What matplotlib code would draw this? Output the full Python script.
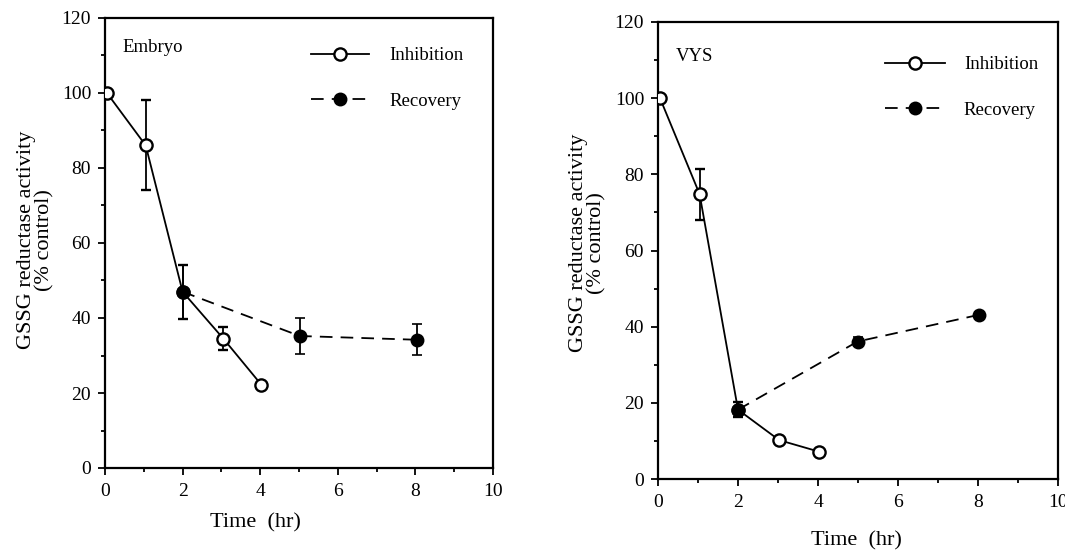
import matplotlib
matplotlib.use("Agg")
import matplotlib.pyplot as plt
from matplotlib.ticker import MultipleLocator

plt.rcParams['font.family'] = ['Liberation Serif', 'DejaVu Serif']

# ---- data ----
emb_inh_x = [0.05, 1.05, 2.0, 3.05, 4.03]
emb_inh_y = [100, 86, 47, 34.5, 22.2]
emb_inh_err = [0, 12, 7.2, 3.1, 0]
emb_rec_x = [2.0, 5.02, 8.03]
emb_rec_y = [47, 35.2, 34.2]
emb_rec_err = [7.2, 4.9, 4.1]

vys_inh_x = [0.05, 1.04, 2.0, 3.03, 4.02]
vys_inh_y = [100, 74.8, 18.2, 10.2, 7.2]
vys_inh_err = [0, 6.7, 1.9, 0, 0]
vys_rec_x = [2.0, 4.99, 8.02]
vys_rec_y = [18.2, 36.1, 43.1]
vys_rec_err = [1.9, 1.2, 0.8]

xticks = [0, 2, 4, 6, 8, 10]
yticks = [0, 20, 40, 60, 80, 100, 120]
ylabel = "GSSG reductase activity\n(% control)"
xlabel = "Time  (hr)"
legend_labels = ["Inhibition", "Recovery"]

fig = plt.figure(figsize=(10.65, 5.55), dpi=100)
ax1 = fig.add_axes([105/1065, (555-468)/555, 388/1065, 450/555])
ax2 = fig.add_axes([658/1065, (555-479)/555, 400/1065, 457/555])

def draw(ax, ix, iy, ie, rx, ry, re, title, title_xy, leg_anchor, leg_hl, leg_tp, ylab_xy, xlab_xy):
    ms = 8.8
    h1 = ax.errorbar(ix, iy, yerr=ie, color='black', lw=1.3, ls='-', marker='o',
                     ms=ms, mfc='white', mec='black', mew=1.7, capsize=3.6,
                     elinewidth=1.3, capthick=1.3, zorder=3)
    h2 = ax.errorbar(rx, ry, yerr=re, color='black', lw=1.3, ls=(0, (7, 4.5)), marker='o',
                     ms=ms, mfc='black', mec='black', mew=1.2, capsize=3.6,
                     elinewidth=1.3, capthick=1.3, zorder=4)
    ax.set_xlim(0, 10)
    ax.set_ylim(0, 120)
    ax.set_xticks(xticks)
    ax.set_yticks(yticks)
    ax.xaxis.set_minor_locator(MultipleLocator(1))
    ax.yaxis.set_minor_locator(MultipleLocator(10))
    ax.tick_params(which='both', direction='out', top=False, right=False,
                   labelsize=14, width=1.3)
    ax.tick_params(which='major', length=5)
    ax.tick_params(which='minor', length=3)
    ax.tick_params(axis='x', pad=6)
    ax.tick_params(axis='y', pad=5)
    for s in ax.spines.values():
        s.set_linewidth(1.6)
    ax.set_ylabel(ylabel, fontsize=16, linespacing=1.0)
    ax.yaxis.set_label_coords(*ylab_xy)
    ax.set_xlabel(xlabel, fontsize=16)
    ax.xaxis.set_label_coords(*xlab_xy)
    ax.text(title_xy[0], title_xy[1], title, transform=ax.transAxes,
            fontsize=13.5, ha='left', va='center')
    ax.legend([h1.lines[0], h2.lines[0]], legend_labels, loc='upper left',
              bbox_to_anchor=leg_anchor, frameon=False, fontsize=13.5,
              numpoints=1, handlelength=leg_hl, handletextpad=leg_tp,
              labelspacing=1.5, borderpad=0, borderaxespad=0)

draw(ax1, emb_inh_x, emb_inh_y, emb_inh_err, emb_rec_x, emb_rec_y, emb_rec_err,
     "Embryo", (0.046, 0.935), (0.531, 0.935), 3.1, 1.1, (-0.129, 0.507), (0.387, -0.1))
draw(ax2, vys_inh_x, vys_inh_y, vys_inh_err, vys_rec_x, vys_rec_y, vys_rec_err,
     "VYS", (0.045, 0.925), (0.568, 0.925), 3.2, 1.0, (-0.128, 0.516), (0.495, -0.115))

fig.savefig("out.png", dpi=100)
